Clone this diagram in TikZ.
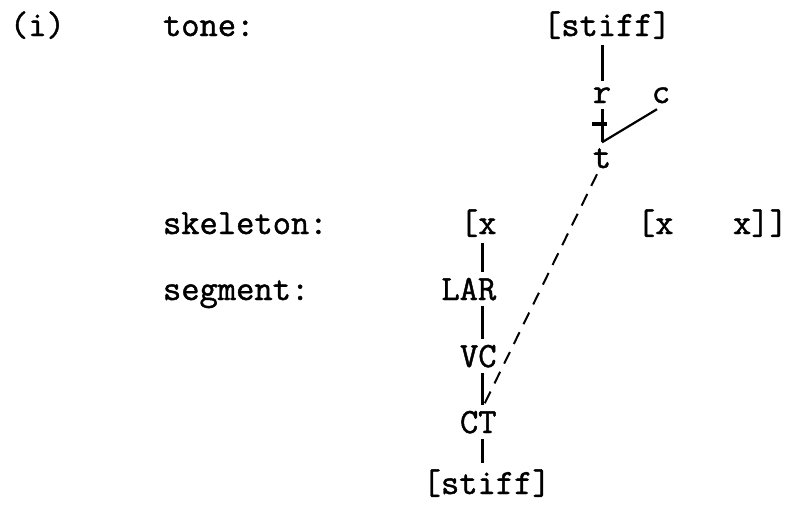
\documentclass[tikz,border=0pt]{standalone}
\usepackage{fontspec}
\newfontfamily\twfont{Latin Modern Mono}[FakeBold=1.3]
\usetikzlibrary{calc}
\tikzset{
  lbl/.style={inner sep=0pt, outer sep=6pt, anchor=base west, font=\twfont\fontsize{35.5}{40}\selectfont},
  lblc/.style={lbl, anchor=base},
  assoc/.style={line width=3pt},
  thinlink/.style={line width=2.2pt},
  dashlink/.style={line width=2pt, dash pattern=on 13pt off 9pt}
}
\begin{document}
\begin{tikzpicture}[x=1pt,y=-1pt]
\useasboundingbox (0,0) rectangle (788,504);
\coordinate (colL) at (482,0);
\coordinate (colT) at (602,0);
% labels
\node[lbl] (ex) at (4,36) {(i)};
\node[lbl] (tone) at (157,36) {tone:};
\node[lbl] (skel) at (157,234) {skeleton:};
\node[lbl] (seg) at (157,300) {segment:};
% tone tier
\node[lbl] (stiffT) at (537,36) {[stiff]};
\node[lblc] (r) at (602,103) {r};
\node[lblc] (c) at (661,103) {c};
\node[lblc] (t) at (602,168) {t};
% skeleton
\node[lbl] (x1) at (454,234) {[x};
\node[lbl] (x2) at (631,234) {[x};
\node[lbl] (x3) at (727,234) {x]]};
% segment
\node[lbl] (LAR) at (435.4,300) {LAR};
\node[lbl] (VC) at (454,367) {VC};
\node[lbl] (CT) at (454,433) {CT};
\node[lbl] (stiffB) at (416.7,494) {[stiff]};
% connectors
\draw[assoc] (stiffT.south -| colT) -- (r.north -| colT);
\draw[assoc] (r.south) -- (t.north);
\draw[line width=4pt] ($(r.south)!0.45!(t.north)+(-10,0)$) -- ($(r.south)!0.45!(t.north)+(5,0)$);
\draw[thinlink] ($(c.south)+(-4,0)$) -- (t.north);
\draw[dashlink] ($(t.south)+(-5,0)$) -- ($(CT.north -| colL)+(0,4)$);
\draw[assoc] (x1.south -| colL) -- (LAR.north -| colL);
\draw[assoc] (LAR.south -| colL) -- (VC.north -| colL);
\draw[assoc] (VC.south -| colL) -- (CT.north -| colL);
\draw[assoc] (CT.south -| colL) -- (stiffB.north -| colL);
\end{tikzpicture}
\end{document}
